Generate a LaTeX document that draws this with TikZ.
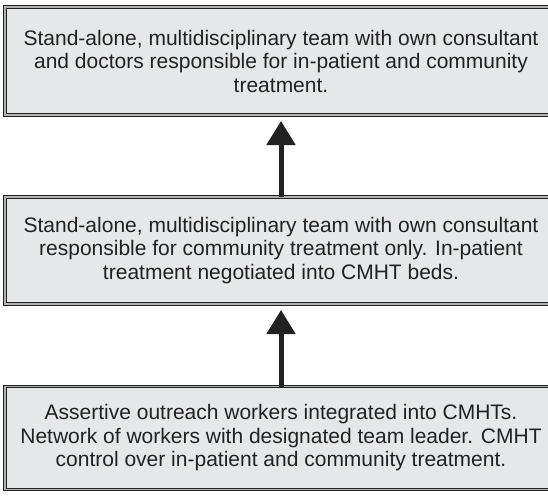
\documentclass[tikz,border=0pt]{standalone}
\usepackage{fontspec}
\setmainfont{Liberation Sans}
\usetikzlibrary{arrows.meta}

\definecolor{panelfill}{HTML}{E6E7E9}
\definecolor{panelink}{HTML}{222222}

\tikzset{
  panel/.style={draw=panelink, double=gray!60, double distance=1.3pt, line width=1.2pt,
                fill=panelfill, text=panelink, minimum width=552pt, inner sep=0pt,
                outer sep=0pt, align=center, font=\fontsize{21}{23.5}\selectfont},
  uparrow/.style={draw=panelink, line width=5pt, -{Triangle[width=28pt,length=24pt]},
                  shorten >=6pt}
}

\begin{document}
\begin{tikzpicture}[x=1pt, y=1pt]
      \clip (0, 0) rectangle (548, -495);
      \fill[white] (0, 0) rectangle (548, -495);
      \node[panel, minimum height=108pt] (top) at (281, -61)
        {Stand-alone, multidisciplinary team with own consultant\\
         and doctors responsible for in-patient and community\\
         treatment.};
      \node[panel, minimum height=107pt] (mid) at (281, -250.5)
        {Stand-alone, multidisciplinary team with own consultant\\
         responsible for community treatment only. In-patient\\
         treatment negotiated into CMHT beds.};
      \node[panel, minimum height=103pt] (low) at (281, -438)
        {Assertive outreach workers integrated into CMHTs.\\
         Network of workers with designated team leader. CMHT\\
         control over in-patient and community treatment.};
      \draw[uparrow] (mid) -- (top);
      \draw[uparrow] (low) -- (mid);
    \end{tikzpicture}
\end{document}
